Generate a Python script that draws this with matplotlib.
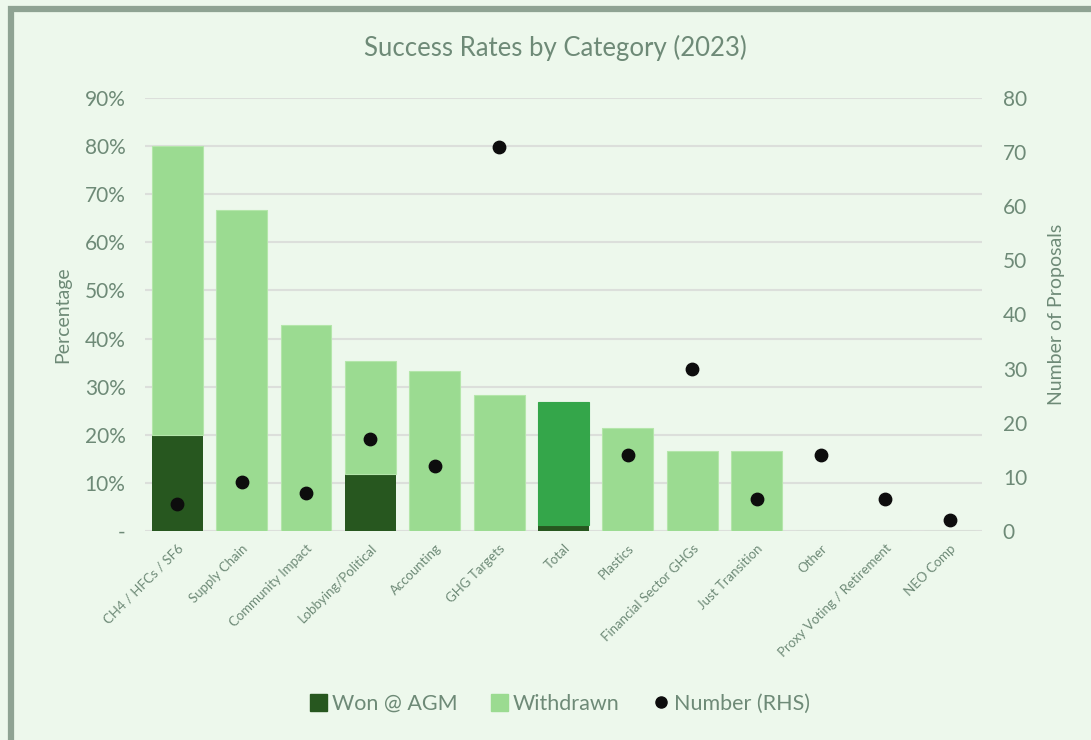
import matplotlib
matplotlib.use("Agg")
import matplotlib.pyplot as plt
from matplotlib.patches import Rectangle
from matplotlib.lines import Line2D
from matplotlib.ticker import FuncFormatter, MultipleLocator
import numpy as np

categories = ["CH4 / HFCs / SF6", "Supply Chain", "Community Impact",
              "Lobbying/Political", "Accounting", "GHG Targets", "Total",
              "Plastics", "Financial Sector GHGs", "Just Transition", "Other",
              "Proxy Voting / Retirement", "NEO Comp"]
won_pct = [20.0, 0.0, 0.0, 11.8, 0.0, 0.0, 1.3, 0.0, 0.0, 0.0, 0.0, 0.0, 0.0]
withdrawn_pct = [60.0, 66.7, 42.9, 23.5, 33.3, 28.2, 25.5, 21.4, 16.7, 16.7, 0.0, 0.0, 0.0]
num_proposals = [5, 9, 7, 17, 12, 71, np.nan, 14, 30, 6, 14, 6, 2]

BG = "#edf8ec"
TXT = "#6e8a77"
DARK = "#27571f"
LIGHT = "#9bdb91"
TOTAL = "#34a64a"
GRID = "#dcdfdb"

plt.rcParams['font.family'] = ['Lato', 'DejaVu Sans']

fig = plt.figure(figsize=(10.91, 7.40), dpi=100, facecolor=BG)
ax = fig.add_axes([145/1091, 1 - 531/740, 837/1091, (531-98)/740])
ax.set_facecolor(BG)

x = np.arange(len(categories))
top_colors = [TOTAL if c == "Total" else LIGHT for c in categories]
ax.bar(x, won_pct, width=0.79, color=DARK, zorder=2)
ax.bar(x, withdrawn_pct, width=0.79, bottom=won_pct, color=top_colors,
       edgecolor=[("#b4e6aa" if c != TOTAL else TOTAL) for c in top_colors],
       linewidth=0.8, zorder=2)

ax.set_xlim(-0.5, len(categories) - 0.5)
ax.set_ylim(0, 90)
ax.yaxis.set_major_locator(MultipleLocator(10))
ax.yaxis.set_major_formatter(FuncFormatter(lambda v, p: "-" if v == 0 else f"{v:.0f}%"))
ax.grid(axis="y", color=GRID, linewidth=1.5, zorder=0)
ax.set_axisbelow(True)
for s in ax.spines.values():
    s.set_visible(False)
ax.tick_params(axis="both", length=0)
ax.tick_params(axis="y", labelsize=15, labelcolor=TXT, pad=14)
ax.set_xticks(x)
ax.set_xticklabels(categories, rotation=45, ha="right", rotation_mode="anchor",
                   fontsize=9.5, color=TXT)
ax.tick_params(axis="x", pad=8)
ax.set_ylabel("Percentage", fontsize=14, color=TXT, labelpad=10)

ax2 = ax.twinx()
ax2.set_ylim(0, 80)
ax2.yaxis.set_major_locator(MultipleLocator(10))
ax2.scatter(x, num_proposals, s=80, color="#0d0d0d", zorder=3)
for s in ax2.spines.values():
    s.set_visible(False)
ax2.tick_params(axis="y", length=0, labelsize=15, labelcolor=TXT, pad=15)
ax2.set_ylabel("Number of Proposals", fontsize=14, color=TXT, labelpad=15)

fig.text(555/1091, 1 - 48/740, "Success Rates by Category (2023)",
         ha="center", va="center", fontsize=18.5, color=TXT)

handles = [Rectangle((0, 0), 1, 1, color=DARK),
           Rectangle((0, 0), 1, 1, color=LIGHT),
           Line2D([], [], marker="o", linestyle="none", color="#0d0d0d", markersize=8)]
fig.legend(handles, ["Won @ AGM", "Withdrawn", "Number (RHS)"],
           loc="center", bbox_to_anchor=(560/1091, 1 - 704/740), ncol=3,
           frameon=False, fontsize=15.5, labelcolor=TXT, handlelength=0.8,
           handleheight=0.8, handletextpad=0.2, columnspacing=1.55)

# outer frame (left and top edges)
fig.patches.append(Rectangle((11/1091, -0.1), 1.2, 1 - 9/740 + 0.1,
                             transform=fig.transFigure, fill=False,
                             edgecolor="#8fa393", linewidth=4.5))

fig.savefig("out.png", dpi=100, facecolor=BG)
